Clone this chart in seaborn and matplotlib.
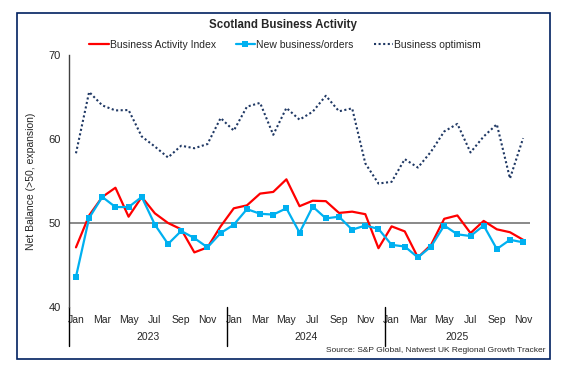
import numpy as np
import pandas as pd
import matplotlib
matplotlib.use("Agg")
import matplotlib.pyplot as plt
from matplotlib.patches import Rectangle
import seaborn as sns

months = ["Jan", "Feb", "Mar", "Apr", "May", "Jun",
          "Jul", "Aug", "Sep", "Oct", "Nov", "Dec"]
years = ["2023", "2024", "2025"]

activity = [47.1, 50.9, 53.1, 54.2, 50.75, 53.1, 51.15, 50.0, 49.25, 46.5, 47.1, 49.6,
            51.75, 52.1, 53.5, 53.7, 55.2, 52.0, 52.65, 52.6, 51.2, 51.35, 51.05, 47.0,
            49.6, 49.0, 45.9, 47.4, 50.5, 50.9, 48.8, 50.25, 49.25, 48.9, 48.0]

new_orders = [43.6, 50.6, 53.1, 51.9, 51.9, 53.1, 49.8, 47.5, 49.05, 48.2, 47.1, 48.8,
              49.8, 51.65, 51.1, 51.0, 51.75, 48.85, 51.95, 50.55, 50.75, 49.2, 49.7, 49.3,
              47.4, 47.2, 45.9, 47.2, 49.7, 48.65, 48.45, 49.7, 46.9, 48.0, 47.7]

optimism = [58.3, 65.6, 64.0, 63.4, 63.45, 60.3, 59.1, 57.8, 59.2, 58.9, 59.4, 62.5,
            61.0, 63.85, 64.3, 60.5, 63.7, 62.3, 63.25, 65.15, 63.3, 63.65, 57.1, 54.7,
            54.9, 57.6, 56.6, 58.5, 60.9, 61.8, 58.4, 60.3, 61.75, 55.3, 60.1]

n = len(activity)
labels = [months[i % 12] for i in range(n)]
idx = np.arange(n)

sns.set_style("white")
plt.rcParams["font.family"] = ["Liberation Sans", "DejaVu Sans"]

fig = plt.figure(figsize=(5.64, 3.69), dpi=100)
ax = fig.add_axes([69.4 / 564, 1 - 307 / 369, 460.3 / 564, 252 / 369])

ax.axhline(50, color="#808080", lw=1.3, zorder=1)

sns.lineplot(x=idx, y=optimism, ax=ax, color="#1F3864", lw=1.5,
             linestyle=(0, (1, 1.2)), label="Business optimism", zorder=2)
sns.lineplot(x=idx, y=activity, ax=ax, color="#FF0000", lw=1.6,
             label="Business Activity Index", zorder=3)
sns.lineplot(x=idx, y=new_orders, ax=ax, color="#00B0F0", lw=1.6,
             marker="s", markersize=4, markeredgewidth=0,
             label="New business/orders", zorder=4)

ax.set_xlim(-0.5, n - 0.5)
ax.set_ylim(40, 70)
ax.set_yticks([40, 50, 60, 70])
ax.tick_params(axis="y", length=0, labelsize=8, pad=6)

ax.set_xticks(idx[::2])
ax.set_xticklabels(labels[::2])
ax.tick_params(axis="x", length=0, labelsize=7.5, pad=6)

for s in ["top", "right", "bottom"]:
    ax.spines[s].set_visible(False)
ax.spines["left"].set_color("#404040")
ax.spines["left"].set_linewidth(1.0)

ax.set_ylabel("Net Balance (>50, expansion)", fontsize=7.5)
ax.yaxis.set_label_coords(-33 / 460.3, 0.5)

trans = ax.get_xaxis_transform()
for k, yr in enumerate(years):
    start = 12 * k
    end = min(12 * k + 11, n - 1)
    ax.text((start + end) / 2, -0.118, yr, transform=trans,
            ha="center", va="center", fontsize=7.5)
    ax.plot([start - 0.5, start - 0.5], [0, -0.155], transform=trans,
            color="black", lw=1.0, clip_on=False)

# legend on top
handles, labs = ax.get_legend_handles_labels()
order = [1, 2, 0]
ax.get_legend().remove()
fig.legend([handles[i] for i in order], [labs[i] for i in order],
           loc="center", bbox_to_anchor=(285 / 564, 1 - 45 / 369),
           ncol=3, frameon=False, fontsize=7.5, handlelength=1.9,
           handletextpad=0.1, columnspacing=1.9)

fig.text(283 / 564, 1 - 25 / 369, "Scotland Business Activity",
         ha="center", va="center", fontsize=8.3, weight="bold")
fig.text(545 / 564, 1 - 351 / 369,
         "Source: S&P Global, Natwest UK Regional Growth Tracker",
         ha="right", va="center", fontsize=6)

fig.patches.append(Rectangle((17 / 564, 1 - 359 / 369), 533 / 564, 346.5 / 369,
                             transform=fig.transFigure, fill=False,
                             edgecolor="#002060", lw=1.2))

fig.savefig("out.png", dpi=100)
